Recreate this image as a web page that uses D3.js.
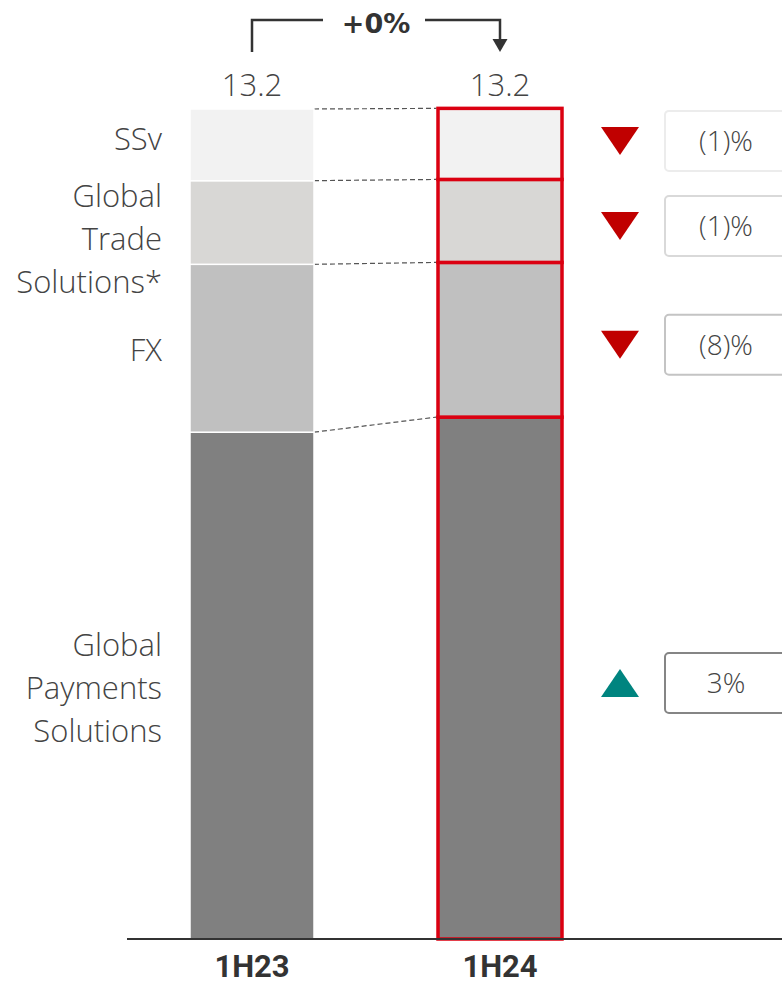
<!DOCTYPE html>
<html>
<head>
<meta charset="utf-8">
<script src="https://cdn.jsdelivr.net/npm/d3@7"></script>
<style>
  html, body { margin: 0; padding: 0; background: #fff; }
  svg { display: block; }
</style>
</head>
<body>
<svg id="chart"></svg>
<script>
// data (segments listed bottom to top)
const categories = ["1H23", "1H24"];
const segments = ["GPS", "FX", "GTS", "SSv"];
const segmentLabels = [["Global", "Payments", "Solutions"], ["FX"], ["Global", "Trade", "Solutions*"], ["SSv"]];
const values1H23 = [8.06, 2.67, 1.33, 1.14];
const values1H24 = [8.30, 2.46, 1.32, 1.13];
const totals = [13.2, 13.2];
const changes = [3, -8, -1, -1];
const totalChange = "+0%";

const W = 782, H = 986;
const margin = {top: 109, bottom: 47};
const baseY = H - margin.bottom;

const svg = d3.select("#chart").attr("width", W).attr("height", H);

// build table for the stack
const table = categories.map((c, i) => {
  const row = {cat: c};
  segments.forEach((s, j) => { row[s] = (i === 0 ? values1H23 : values1H24)[j]; });
  return row;
});
const series = d3.stack().keys(segments)(table);

const x = d3.scaleBand().domain(categories).range([128, 624]).paddingInner(0.5).paddingOuter(0.25);
const y = d3.scaleLinear().domain([0, d3.max(totals)]).range([baseY, margin.top]);
const color = d3.scaleOrdinal().domain(segments).range(["#808080", "#c0c0c0", "#d8d7d5", "#f2f2f2"]);
const boxStroke = d3.scaleOrdinal().domain(segments).range(["#858585", "#c4c4c4", "#d9d9d9", "#ececec"]);

const lightFont = "'Open Sans', Roboto, sans-serif";
const textCol = "#444";

// dashed connectors between bars
series.forEach(s => {
  const a = s[0], b = s[1];
  svg.append("line")
    .attr("x1", x("1H23") + x.bandwidth()).attr("y1", y(a[1]))
    .attr("x2", x("1H24") - 1.5).attr("y2", y(b[1]))
    .attr("stroke", "#555").attr("stroke-width", 1.2)
    .attr("stroke-dasharray", "5,3");
});

// bars
const groups = svg.selectAll("g.seg").data(series).join("g").attr("class", "seg");
groups.selectAll("rect")
  .data(d => d.map(v => Object.assign(v, {key: d.key})))
  .join("rect")
  .attr("x", d => x(d.data.cat))
  .attr("y", d => y(d[1]))
  .attr("width", x.bandwidth())
  .attr("height", d => y(d[0]) - y(d[1]))
  .attr("fill", d => color(d.key))
  .attr("stroke", d => d.data.cat === "1H24" ? "#db0011" : "#fff")
  .attr("stroke-width", d => d.data.cat === "1H24" ? 3.5 : 1.5);

// axis baseline
svg.append("line")
  .attr("x1", 127).attr("x2", W).attr("y1", baseY).attr("y2", baseY)
  .attr("stroke", "#333").attr("stroke-width", 2);

const xAxis = svg.append("g").attr("transform", `translate(0,${baseY})`)
  .call(d3.axisBottom(x).tickSize(0).tickPadding(0));
xAxis.select(".domain").remove();
xAxis.selectAll("text")
  .attr("dy", 0).attr("y", 38)
  .style("font-family", "Roboto, 'Liberation Sans', sans-serif")
  .style("font-weight", 700).style("font-size", "31px").attr("fill", "#333");

// totals
svg.selectAll("text.total").data(categories).join("text")
  .attr("class", "total")
  .attr("x", d => x(d) + x.bandwidth() / 2)
  .attr("y", margin.top - 13)
  .attr("text-anchor", "middle")
  .style("font-family", lightFont).style("font-weight", 300).style("font-size", "31px")
  .attr("fill", textCol)
  .text((d, i) => d3.format(".1f")(totals[i]));

// change bracket at top
const cx1 = x("1H23") + x.bandwidth() / 2, cx2 = x("1H24") + x.bandwidth() / 2;
const mid = (cx1 + cx2) / 2;
const by = 20;
svg.append("path")
  .attr("d", `M${cx1},52 V${by} H${mid - 53}`)
  .attr("fill", "none").attr("stroke", "#333").attr("stroke-width", 2.5);
svg.append("path")
  .attr("d", `M${mid + 49},${by} H${cx2} V42`)
  .attr("fill", "none").attr("stroke", "#333").attr("stroke-width", 2.5);
svg.append("path")
  .attr("d", `M${cx2 - 7.5},39 L${cx2 + 7.5},39 L${cx2},52 Z`)
  .attr("fill", "#333");
svg.append("text")
  .attr("x", mid).attr("y", 33)
  .attr("text-anchor", "middle")
  .style("font-family", "'DejaVu Sans', sans-serif").style("font-weight", 700).style("font-size", "27px")
  .attr("fill", "#333")
  .text(totalChange);

// segment labels on the left: centred on the 1H23 segment, pushed down if they overflow its top
const lineH = 43;
segments.forEach((s, j) => {
  const d = series[j][0];
  const top = y(d[1]);
  const lines = segmentLabels[j];
  let cy = (y(d[0]) + top) / 2 + 2;
  if (j === segments.length - 1) cy -= 8; // top segment sits a little higher
  const blockTop = cy - (lines.length * lineH) / 2;
  if (blockTop < top - 6) cy += (top - 6) - blockTop;
  const t = svg.append("text")
    .attr("text-anchor", "end")
    .style("font-family", lightFont).style("font-weight", 300).style("font-size", "31px")
    .attr("fill", textCol);
  lines.forEach((ln, k) => {
    t.append("tspan")
      .attr("x", 162)
      .attr("y", cy + (k - (lines.length - 1) / 2) * lineH + 11)
      .text(ln);
  });
});

// change markers and boxes on the right
const fmtChange = v => v < 0 ? `(${Math.abs(v)})%` : `${v}%`;
segments.forEach((s, j) => {
  const d = series[j][1];
  let cy = (y(d[0]) + y(d[1])) / 2 + 5;
  if (j === segments.length - 1) cy -= 8;
  const tx = 620, tw = 19, th = 28;
  const tri = changes[j] < 0
    ? `M${tx - tw},${cy - th / 2} L${tx + tw},${cy - th / 2} L${tx},${cy + th / 2} Z`
    : `M${tx - tw},${cy + th / 2} L${tx + tw},${cy + th / 2} L${tx},${cy - th / 2} Z`;
  svg.append("path").attr("d", tri).attr("fill", changes[j] < 0 ? "#c00000" : "#00847f");
  svg.append("rect")
    .attr("x", 665).attr("y", cy - 30).attr("width", 122).attr("height", 60)
    .attr("rx", 4)
    .attr("fill", "#fff").attr("stroke", boxStroke(s)).attr("stroke-width", 2);
  svg.append("text")
    .attr("x", 726).attr("y", cy + 10)
    .attr("text-anchor", "middle")
    .style("font-family", lightFont).style("font-weight", 300).style("font-size", "28px")
    .attr("fill", textCol)
    .text(fmtChange(changes[j]));
});
</script>
</body>
</html>
